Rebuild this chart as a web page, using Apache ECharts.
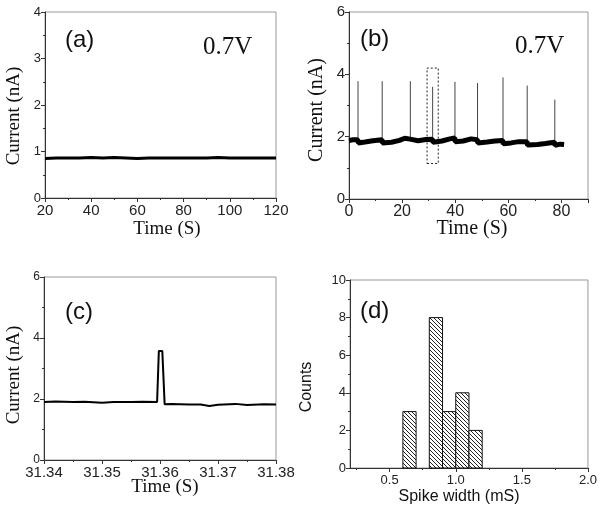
<!DOCTYPE html>
<html><head><meta charset="utf-8">
<script src="https://cdn.jsdelivr.net/npm/echarts@6/dist/echarts.min.js"></script>
<style>html,body{margin:0;padding:0;background:#fff}#c{width:600px;height:514px}</style>
</head><body><div id="c"></div>
<script>
// ---- data ----
const aTime = [20,25,30,35,40,45,50,55,60,65,70,75,80,85,90,95,100,105,110,115,120];
const aCurrent = [0.85,0.86,0.86,0.86,0.87,0.86,0.87,0.86,0.85,0.86,0.86,0.86,0.86,0.86,0.86,0.87,0.86,0.86,0.86,0.86,0.86];

const bTime = [0,1.5,3.3,3.5,6,9,12.4,12.6,16,19,21,23.0,23.2,26,29,31.4,31.6,35,38,39.8,40.0,43,46,48.3,48.5,52,55,57.9,58.1,61,64,67.0,67.2,71,74,77.4,77.6,79.5,81];
const bBase = [1.88,1.9,1.9,1.8,1.83,1.87,1.9,1.8,1.82,1.88,1.95,1.92,1.86,1.87,1.91,1.92,1.82,1.86,1.93,1.96,1.84,1.86,1.93,1.9,1.8,1.83,1.86,1.88,1.77,1.8,1.84,1.84,1.73,1.75,1.78,1.82,1.72,1.76,1.75];
const bSpikeTime = [3.4,12.5,23.1,31.5,39.9,48.4,58.0,67.1,77.5];
const bSpikePeak = [3.78,3.78,3.78,3.6,3.76,3.72,3.9,3.64,3.19];
const bSpikeBase = 1.85;
const bBox = [[29.4,1.14],[33.6,4.2]];

const cTime = [31.340,31.342,31.345,31.347,31.350,31.352,31.355,31.357,31.3595,31.3598,31.3604,31.3608,31.362,31.365,31.367,31.3685,31.370,31.373,31.375,31.378,31.380];
const cCurrent = [1.9,1.92,1.9,1.91,1.88,1.9,1.9,1.91,1.9,3.57,3.57,1.83,1.84,1.82,1.82,1.77,1.81,1.84,1.8,1.83,1.82];

const dBinStart = [0.6,0.8,0.9,1.0,1.1];
const dBinEnd = [0.7,0.9,1.0,1.1,1.2];
const dCounts = [3,8,3,4,2];
const dMajorTicks = [0.5,1.0,1.5,2.0];
const dMinorTicks = [0.25,0.75,1.25,1.75];

// ---- styles ----
const SANS = 'Liberation Sans, Arial, sans-serif';
const SERIF = 'Liberation Serif, Times New Roman, serif';
const AX = '#333';

// hatch pattern
const pat = document.createElement('canvas');
pat.width = 4; pat.height = 4;
const pc = pat.getContext('2d');
pc.fillStyle = '#fff'; pc.fillRect(0,0,4,4);
pc.strokeStyle = '#222'; pc.lineWidth = 1;
pc.beginPath(); pc.moveTo(-1,-1); pc.lineTo(5,5); pc.stroke();
pc.beginPath(); pc.moveTo(-1,3); pc.lineTo(1,5); pc.stroke();
pc.beginPath(); pc.moveTo(3,-1); pc.lineTo(5,1); pc.stroke();

function grid(l,t,w,h){return {left:l,top:t,width:w,height:h,show:true,borderColor:'#999',borderWidth:1,backgroundColor:'transparent'};}
function xAx(gi,min,max,interval,fs,fmt,extra){
  return Object.assign({type:'value',gridIndex:gi,min:min,max:max,interval:interval,
    axisLine:{show:true,lineStyle:{color:AX,width:1}},
    axisTick:{show:true,length:4,lineStyle:{color:AX}},
    minorTick:{show:true,splitNumber:2,length:2,lineStyle:{color:AX}},
    splitLine:{show:false},
    axisLabel:{fontFamily:SANS,fontSize:fs,color:'#222',margin:5,formatter:fmt}},extra||{});
}
function yAx(gi,min,max,interval,fs){
  return {type:'value',gridIndex:gi,min:min,max:max,interval:interval,
    axisLine:{show:true,lineStyle:{color:AX,width:1}},
    axisTick:{show:true,length:4,lineStyle:{color:AX}},
    minorTick:{show:true,splitNumber:2,length:2,lineStyle:{color:AX}},
    splitLine:{show:false},
    axisLabel:{fontFamily:SANS,fontSize:fs,color:'#222',margin:4}};
}
function txt(x,y,s,font,rot,align){
  return {type:'text',x:x,y:y,rotation:rot||0,silent:true,
    style:{text:s,font:font,fill:'#111',align:align||'center',verticalAlign:'middle',textAlign:align||'center',textVerticalAlign:'middle'}};
}

const chart = echarts.init(document.getElementById('c'), null, {renderer:'canvas'});
chart.setOption({
  animation:false,
  backgroundColor:'#fff',
  grid:[grid(45,12,231,186),grid(349,12,239,187),grid(44,277,232,183),grid(350,280,238,188)],
  xAxis:[
    xAx(0,20,120,20,15),
    xAx(1,0,90,20,16,null,{axisLabel:{fontFamily:SANS,fontSize:16,color:'#222',margin:5,showMaxLabel:false}}),
    xAx(2,31.34,31.38,0.01,15,function(v){return v.toFixed(2);}),
    {type:'value',gridIndex:3,min:0.2,max:2.0,
      axisLine:{show:true,lineStyle:{color:AX}},
      axisTick:{show:true,length:4,lineStyle:{color:AX},customValues:dMajorTicks},
      splitLine:{show:false},
      axisLabel:{fontFamily:SANS,fontSize:13,color:'#222',margin:6,customValues:dMajorTicks,formatter:function(v){return v.toFixed(1);}}},
    {type:'value',gridIndex:3,min:0.2,max:2.0,position:'bottom',
      axisLine:{show:false},
      axisTick:{show:true,length:2,lineStyle:{color:AX},customValues:dMinorTicks},
      splitLine:{show:false},
      axisLabel:{show:false}}
  ],
  yAxis:[yAx(0,0,4,1,13),yAx(1,0,6,2,15),yAx(2,0,6,2,12),yAx(3,0,10,2,13)],
  series:[
    {type:'line',xAxisIndex:0,yAxisIndex:0,showSymbol:false,symbol:'none',
      data:aTime.map((t,i)=>[t,aCurrent[i]]),lineStyle:{color:'#000',width:3}},
    {type:'line',xAxisIndex:1,yAxisIndex:1,showSymbol:false,symbol:'none',
      data:bTime.map((t,i)=>[t,bBase[i]]),lineStyle:{color:'#000',width:5},
      markArea:{silent:true,itemStyle:{color:'transparent',borderColor:'#222',borderWidth:1,borderType:[2,2]},
        data:[[{coord:bBox[0]},{coord:bBox[1]}]]}},
    {type:'custom',xAxisIndex:1,yAxisIndex:1,silent:true,
      data:bSpikeTime.map((t,i)=>[t,bSpikePeak[i]]),
      renderItem:function(params,api){
        const p0 = api.coord([api.value(0),bSpikeBase]);
        const p1 = api.coord([api.value(0),api.value(1)]);
        return {type:'line',shape:{x1:p0[0],y1:p0[1],x2:p1[0],y2:p1[1]},style:{stroke:'#444',lineWidth:1}};
      }},
    {type:'line',xAxisIndex:2,yAxisIndex:2,showSymbol:false,symbol:'none',
      data:cTime.map((t,i)=>[t,cCurrent[i]]),lineStyle:{color:'#000',width:2}},
    {type:'custom',xAxisIndex:3,yAxisIndex:3,silent:true,
      data:dCounts.map((c,i)=>[dBinStart[i],dBinEnd[i],c]),
      renderItem:function(params,api){
        const p0 = api.coord([api.value(0),api.value(2)]);
        const p1 = api.coord([api.value(1),0]);
        return {type:'rect',shape:{x:p0[0],y:p0[1],width:p1[0]-p0[0],height:p1[1]-p0[1]},
          style:{fill:{image:pat,repeat:'repeat'},stroke:'#111',lineWidth:1}};
      }}
  ],
  graphic:[
    txt(65,40,'(a)','24px '+SANS,0,'left'),
    txt(203,47,'0.7V','25px '+SERIF,0,'left'),
    txt(360,39,'(b)','24px '+SANS,0,'left'),
    txt(515,46,'0.7V','25px '+SERIF,0,'left'),
    txt(65,312,'(c)','24px '+SANS,0,'left'),
    txt(360,311,'(d)','24px '+SANS,0,'left'),
    txt(167,229,'Time (S)','19px '+SERIF),
    txt(472,229,'Time (S)','20px '+SERIF),
    txt(165,487,'Time (S)','19px '+SERIF),
    txt(459,497,'Spike width (mS)','16px '+SANS),
    txt(14,116,'Current (nA)','19px '+SERIF,Math.PI/2),
    txt(317,110,'Current (nA)','20px '+SERIF,Math.PI/2),
    txt(14,375,'Current (nA)','19px '+SERIF,Math.PI/2),
    txt(307,387,'Counts','16px '+SANS,Math.PI/2)
  ]
});
</script></body></html>
